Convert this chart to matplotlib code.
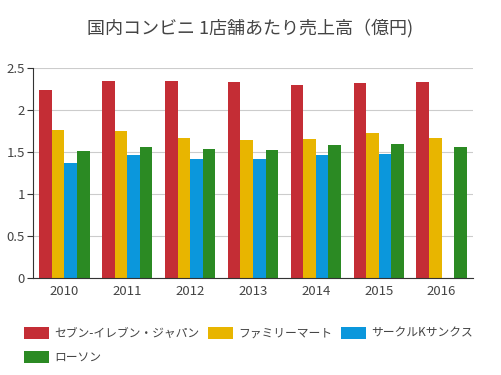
import matplotlib.pyplot as plt
import numpy as np

plt.rcParams['font.family'] = ['Noto Sans CJK JP', 'DejaVu Sans']

years = ['2010', '2011', '2012', '2013', '2014', '2015', '2016']
names = ['セブン-イレブン・ジャパン', 'ファミリーマート', 'サークルKサンクス', 'ローソン']
seven = [2.24, 2.35, 2.34, 2.33, 2.30, 2.32, 2.33]
family = [1.76, 1.75, 1.67, 1.64, 1.65, 1.73, 1.67]
circlek = [1.37, 1.46, 1.42, 1.42, 1.46, 1.48, np.nan]
lawson = [1.51, 1.56, 1.53, 1.52, 1.58, 1.59, 1.56]
colors = ['#c42d35', '#e8b500', '#0b97dc', '#2b8a23']

fig = plt.figure(figsize=(5.01, 3.75), dpi=100)
ax = fig.add_axes([33/501, 1 - 278/375, 440/501, 210/375])

x = np.arange(len(years))
w = 0.2
series = [seven, family, circlek, lawson]
bars = []
for i, s in enumerate(series):
    bars.append(ax.bar(x + (i - 1.5) * w, s, w, color=colors[i], label=names[i]))

ax.set_xlim(-0.5, len(years) - 0.5)
ax.set_ylim(0, 2.5)
ax.set_yticks([0, 0.5, 1, 1.5, 2, 2.5])
ax.set_yticklabels(['0', '0.5', '1', '1.5', '2', '2.5'])
ax.set_xticks(x)
ax.set_xticklabels(years)
ax.yaxis.grid(True, color='#cccccc', linewidth=0.8)
ax.set_axisbelow(True)
for s in ['top', 'right']:
    ax.spines[s].set_visible(False)
ax.spines['left'].set_color('#333333')
ax.spines['bottom'].set_color('#333333')
ax.tick_params(axis='x', length=0, labelsize=9.5, colors='#444444', pad=5)
ax.tick_params(axis='y', length=4, labelsize=9.5, colors='#444444', pad=2)
ax.tick_params(axis='y', color='#333333')

fig.text(0.5, 1 - 28/375, '国内コンビニ 1店舗あたり売上高（億円)', ha='center', va='center',
         fontsize=13, color='#444444')

# row-major order for the legend: matplotlib fills columns first
order = [0, 3, 1, 2]
fig.legend([bars[i] for i in order], [names[i] for i in order],
           loc='upper left', bbox_to_anchor=(19/501, 1 - 322/375), ncol=3, frameon=False,
           fontsize=8.5, handlelength=2.1, handleheight=1.2, columnspacing=0.7,
           handletextpad=0.5, labelcolor='#444444', borderaxespad=0, labelspacing=0.95)

fig.savefig('out.png', dpi=100)
